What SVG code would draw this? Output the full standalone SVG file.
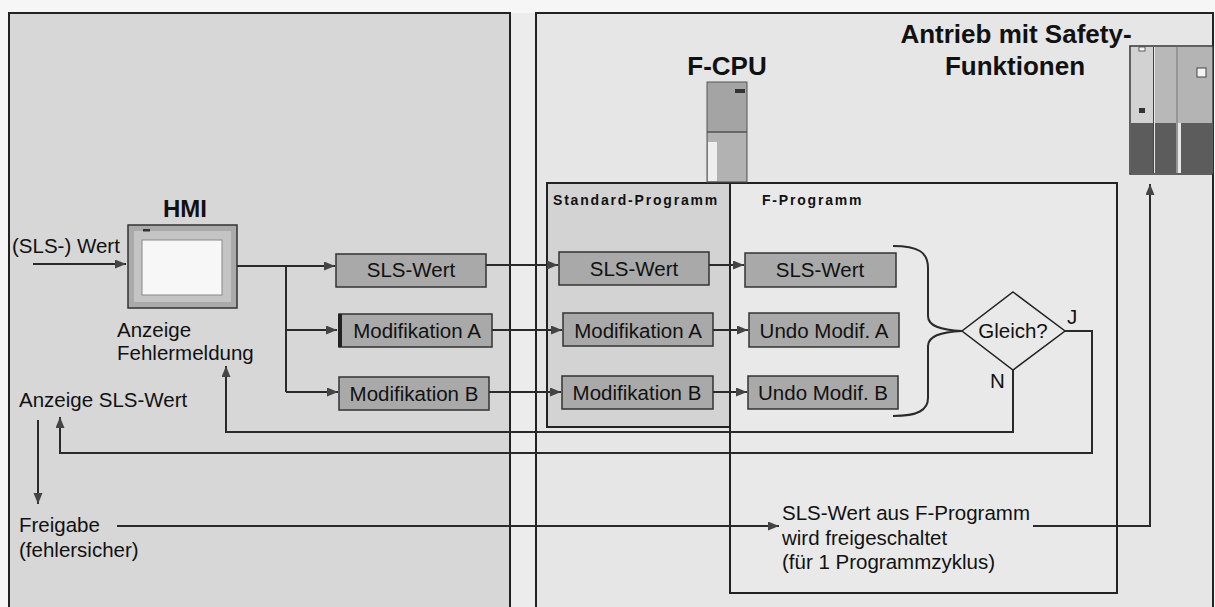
<svg xmlns="http://www.w3.org/2000/svg" width="1215" height="607" viewBox="0 0 1215 607">
<defs>
<marker id="ah" markerUnits="userSpaceOnUse" markerWidth="12" markerHeight="10" refX="11" refY="4.5" orient="auto">
<path d="M0,0 L11,4.5 L0,9 z" fill="#444"/>
</marker>
<style>
text{font-family:"Liberation Sans",Arial,sans-serif;fill:#111}
.t{font-size:20.5px}
.tb{font-size:20.5px;text-anchor:middle}
.h{font-size:26px;font-weight:bold}
.lbl{font-size:14px;font-weight:bold;letter-spacing:1.8px}
.box{fill:#a9a9a9;stroke:#333;stroke-width:1.5}
.frame{stroke:#222;stroke-width:2}
.ln{fill:none;stroke:#2a2a2a;stroke-width:2}
.arr{fill:none;stroke:#2a2a2a;stroke-width:2;marker-end:url(#ah)}
</style>
</defs>
<rect x="0" y="0" width="1215" height="607" fill="#f6f6f6"/>
<rect x="510" y="13" width="26" height="594" fill="#ececec"/>
<g id="panel-left"><rect class="frame" x="9" y="13" width="501" height="596" fill="#d7d7d7"/></g>
<g id="panel-right"><rect class="frame" x="536" y="13" width="677" height="596" fill="#e6e6e6"/></g>
<g id="std-programm">
<rect class="frame" x="547" y="183" width="183" height="244" fill="#d3d3d3"/>
<text class="lbl" x="553" y="205">Standard-Programm</text>
</g>
<g id="f-programm">
<rect class="frame" x="730" y="183" width="387" height="410" fill="#e9e9e9"/>
<text class="lbl" x="762" y="205">F-Programm</text>
</g>
<g id="f-cpu">
<text class="h" x="727" y="75" text-anchor="middle">F-CPU</text>
<rect x="707" y="82" width="40" height="100" fill="#a4a4a4" stroke="#555" stroke-width="1"/>
<rect x="708" y="133" width="38" height="48" fill="#b2b2b2"/>
<line x1="707" y1="132" x2="747" y2="132" stroke="#555" stroke-width="1.5"/>
<rect x="708" y="142" width="9" height="39" fill="#eeeeee"/>
<rect x="735" y="89" width="10" height="4" fill="#333"/>
</g>
<g id="antrieb">
<text class="h" x="1016" y="43" text-anchor="middle">Antrieb mit Safety-</text>
<text class="h" x="1015" y="75" text-anchor="middle">Funktionen</text>
<rect x="1130" y="46" width="83" height="128" fill="#e8e8e8" stroke="#333" stroke-width="1.5"/>
<rect x="1131" y="47" width="22" height="76" fill="#d2d2d2"/>
<rect x="1155" y="47" width="21" height="76" fill="#b8b8b8"/>
<rect x="1178" y="47" width="34" height="76" fill="#b4b4b4"/>
<rect x="1131" y="123" width="22" height="50" fill="#5c5c5c"/>
<rect x="1155" y="123" width="21" height="50" fill="#5c5c5c"/>
<rect x="1181" y="123" width="31" height="50" fill="#5c5c5c"/>
<rect x="1197" y="68" width="9" height="9" fill="#f4f4f4" stroke="#444" stroke-width="1"/>
<rect x="1139" y="47" width="6" height="4" fill="#f4f4f4" stroke="#444" stroke-width="0.8"/>
<rect x="1139" y="108" width="6" height="5" fill="#333"/>
<line x1="1153.5" y1="47" x2="1153.5" y2="173" stroke="#444" stroke-width="1"/>
<line x1="1177" y1="47" x2="1177" y2="173" stroke="#444" stroke-width="1"/>
</g>
<g id="hmi">
<text x="185" y="217" font-size="24" font-weight="bold" text-anchor="middle">HMI</text>
<rect x="128" y="225" width="109" height="83" fill="#aaaaaa" stroke="#333" stroke-width="1.5"/>
<rect x="134" y="231" width="97" height="71" fill="#c4c4c4"/>
<rect x="142" y="240" width="80" height="55" fill="#f7f7f7" stroke="#888" stroke-width="1"/>
<rect x="143" y="229" width="7" height="2.5" fill="#333"/>
<text class="t" x="117" y="337">Anzeige</text>
<text class="t" x="117" y="360">Fehlermeldung</text>
</g>
<g id="labels-left">
<text class="t" x="12" y="253">(SLS-) Wert</text>
<text class="t" x="19" y="407">Anzeige SLS-Wert</text>
<text class="t" x="19" y="532">Freigabe</text>
<text class="t" x="19" y="557">(fehlersicher)</text>
</g>
<g id="hmi-sls"><rect class="box" x="336" y="254" width="150" height="33"/><text class="tb" x="411" y="277">SLS-Wert</text></g>
<g id="hmi-moda"><rect class="box" x="339" y="314" width="153" height="33"/><rect x="338" y="314" width="4" height="33" fill="#222"/><text class="tb" x="417" y="338">Modifikation A</text></g>
<g id="hmi-modb"><rect class="box" x="339" y="377" width="150" height="33"/><text class="tb" x="414" y="401">Modifikation B</text></g>
<g id="std-sls"><rect class="box" x="559" y="252" width="150" height="33"/><text class="tb" x="634" y="276">SLS-Wert</text></g>
<g id="std-moda"><rect class="box" x="563" y="313" width="150" height="33"/><text class="tb" x="638" y="338">Modifikation A</text></g>
<g id="std-modb"><rect class="box" x="562" y="376" width="151" height="33"/><text class="tb" x="637" y="400">Modifikation B</text></g>
<g id="f-sls"><rect class="box" x="745" y="253" width="151" height="34"/><text class="tb" x="820" y="277">SLS-Wert</text></g>
<g id="f-undoa"><rect class="box" x="749" y="313" width="150" height="34"/><text class="tb" x="824" y="338">Undo Modif. A</text></g>
<g id="f-undob"><rect class="box" x="748" y="376" width="150" height="33"/><text class="tb" x="823" y="400">Undo Modif. B</text></g>
<g id="gleich">
<polygon points="1013,292 1065,331 1013,370 962,331" fill="#e9e9e9" stroke="#222" stroke-width="1.5"/>
<text class="tb" x="1013" y="338">Gleich?</text>
<text class="t" x="1067" y="324">J</text>
<text class="t" x="990" y="388">N</text>
</g>
<g id="f-text">
<text class="t" x="782" y="520">SLS-Wert aus F-Programm</text>
<text class="t" x="782" y="545">wird freigeschaltet</text>
<text class="t" x="782" y="569">(für 1 Programmzyklus)</text>
</g>
<g id="connectors">
<line class="arr" x1="33" y1="264" x2="126" y2="264"/>
<line class="ln" x1="237" y1="266" x2="286" y2="266"/>
<line class="arr" x1="286" y1="266" x2="335" y2="266"/>
<polyline class="ln" points="286,266 286,392"/>
<line class="arr" x1="286" y1="330" x2="337" y2="330"/>
<line class="arr" x1="286" y1="392" x2="338" y2="392"/>
<line class="arr" x1="486" y1="265" x2="558" y2="265"/>
<line class="arr" x1="492" y1="330" x2="562" y2="330"/>
<line class="arr" x1="489" y1="392" x2="561" y2="392"/>
<line class="arr" x1="709" y1="265" x2="744" y2="265"/>
<line class="arr" x1="713" y1="330" x2="748" y2="330"/>
<line class="arr" x1="713" y1="392" x2="747" y2="392"/>
<path class="ln" stroke-width="1.6" d="M893,246 C918,246 928,252 928,268 L928,316 C928,326 940,330 962,331 C940,332 928,336 928,346 L928,398 C928,410 918,416 893,416"/>
<polyline class="arr" points="1013,370 1013,432 226,432 226,366"/>
<polyline class="arr" points="1065,331 1092,331 1092,453 60,453 60,417"/>
<line class="arr" x1="38" y1="420" x2="38" y2="504"/>
<line class="arr" x1="117" y1="526" x2="779" y2="526"/>
<polyline class="arr" points="1033,526 1150,526 1150,184"/>
</g>
</svg>
